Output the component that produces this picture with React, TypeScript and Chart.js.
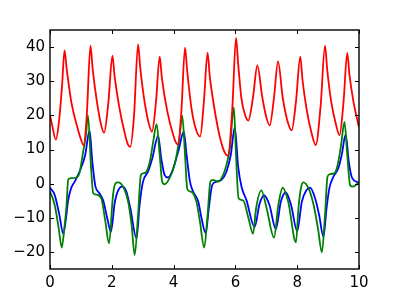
import React, { useEffect, useRef } from "react";
import { Chart, registerables } from "chart.js";

Chart.register(...registerables);

const xTicks = [0, 2, 4, 6, 8, 10];
const yTicks = [-20, -10, 0, 10, 20, 30, 40];

const redT = [0,0.06,0.19,0.3,0.39,0.47,0.54,0.69,0.87,1.03,1.09,1.19,1.31,1.38,1.52,1.66,1.75,1.89,2.02,2.09,2.24,2.4,2.52,2.6,2.72,2.85,2.92,3.06,3.2,3.3,3.43,3.55,3.62,3.8,3.98,4.08,4.14,4.25,4.37,4.44,4.58,4.72,4.86,4.98,5.1,5.17,5.33,5.5,5.66,5.76,5.9,6.02,6.09,6.19,6.3,6.42,6.57,6.71,6.87,7.0,7.11,7.25,7.38,7.53,7.68,7.82,7.96,8.1,8.17,8.31,8.46,8.6,8.76,8.9,8.97,9.1,9.25,9.37,9.5,9.62,9.69,9.82,10];
const redV = [20,17.5,12.9,19,28.7,39,33.6,23.9,17,12.2,11.2,20,40.4,33.6,23.9,17,14.9,23.9,37.5,31.5,22.5,15.5,11.5,10.8,20,40.8,34,24,17.5,15.2,24,37.2,31,21,14.5,12,11.5,21,39.8,33,22,16,13.8,24,38.4,31.5,21.5,13.5,9,8.2,22,42.7,35.1,25.3,20.5,18.5,25.3,34.6,25.3,19.5,17,25.3,35.8,25.3,18.5,15.6,24,37.2,30.5,21.5,15,11.3,23,40.4,33.5,24,17.5,14.2,24,38.3,32,24,16.5];

const greenT = [0,0.15,0.28,0.38,0.47,0.53,0.59,0.68,0.85,0.95,1.08,1.16,1.23,1.33,1.4,1.5,1.66,1.79,1.91,2.04,2.12,2.2,2.37,2.53,2.64,2.74,2.85,2.94,3.01,3.12,3.23,3.34,3.45,3.55,3.63,3.71,3.87,4.03,4.1,4.2,4.28,4.37,4.44,4.53,4.63,4.74,4.85,4.99,5.1,5.19,5.27,5.44,5.6,5.71,5.82,5.95,6.02,6.1,6.25,6.42,6.57,6.67,6.84,7.01,7.25,7.39,7.53,7.71,7.96,8.04,8.13,8.2,8.37,8.53,8.67,8.8,8.9,8.98,9.06,9.2,9.31,9.42,9.53,9.62,9.71,9.79,10];
const greenV = [-2.3,-6.2,-13,-18.7,-12.5,-7,1.2,1.6,1.8,3,9.7,14,20,4.5,-2.8,-3.2,-4.3,-11,-17.5,-3.3,0.1,0.4,-0.9,-5.3,-12,-20.9,-9.2,2.5,3,3.5,6.4,12.3,17.4,8.4,0.6,-0.2,1.6,5.5,8.4,14.2,19.9,8.4,-1.4,-2.3,-2.8,-5.3,-11,-18.7,-9.2,0.6,1.1,0.6,2.5,5.5,10.3,22.3,8.4,-4.2,-4.9,-10,-14.7,-7.2,-2,-7.2,-15.8,-6.2,-1.2,-5.3,-17.2,-7.2,-0.9,0.4,-1.4,-6.2,-13,-20.1,-9.2,2,2.8,3,5.5,11.3,18.1,8.4,-0.4,-0.9,0.3];

const blueT = [0,0.15,0.3,0.43,0.52,0.58,0.68,0.8,0.97,1.14,1.28,1.37,1.47,1.6,1.72,1.85,1.97,2.1,2.26,2.34,2.47,2.6,2.8,2.9,3.01,3.17,3.31,3.5,3.6,3.71,3.82,3.95,4.15,4.33,4.42,4.53,4.63,4.8,4.9,5.04,5.14,5.25,5.39,5.55,5.71,5.85,5.98,6.09,6.2,6.36,6.62,6.78,6.93,7.1,7.31,7.47,7.63,7.8,8.0,8.15,8.3,8.42,8.58,8.71,8.85,8.95,9.04,9.17,9.33,9.44,9.57,9.67,9.78,10];
const blueV = [-1.2,-3.3,-9,-14.7,-10,-5.3,-1.4,0.6,3.8,8.4,15.6,6.4,-0.8,-2.8,-4.9,-10,-14.1,-5.3,-1.2,-0.9,-2.3,-7.2,-16,-6.2,0.6,3.5,7.4,14,7.4,2.5,1.8,3.5,9.4,15.2,8.4,0.6,-2.3,-5.3,-10,-14.5,-7.2,-0.4,0.6,1.1,3.5,8.4,16.5,4.9,-1,-4.9,-12.7,-6,-3.4,-6.2,-13.3,-5.3,-2.6,-6.2,-13.9,-5.3,-1.9,-1.2,-4.3,-9.2,-15.5,-7.2,-1.4,2,4.5,8.4,14.4,6.4,1.6,0.3];

const toPts = (t: number[], v: number[]) => t.map((x, i) => ({ x, y: v[i] }));
const fmt = (v: number) => (v < 0 ? "\u2212" + Math.abs(v) : String(v));

const framePlugin = {
  id: "frame",
  afterDraw(chart: any) {
    const { ctx, chartArea: a, scales } = chart;
    ctx.save();
    ctx.strokeStyle = "#000";
    ctx.lineWidth = 1.4;
    ctx.strokeRect(a.left, a.top, a.right - a.left, a.bottom - a.top);
    ctx.lineWidth = 1;
    ctx.beginPath();
    const L = 4;
    xTicks.forEach((t) => {
      const px = Math.round(scales.x.getPixelForValue(t)) + 0.5;
      ctx.moveTo(px, a.bottom);
      ctx.lineTo(px, a.bottom - L);
      ctx.moveTo(px, a.top);
      ctx.lineTo(px, a.top + L);
    });
    yTicks.forEach((t) => {
      const py = Math.round(scales.y.getPixelForValue(t)) + 0.5;
      ctx.moveTo(a.left, py);
      ctx.lineTo(a.left + L, py);
      ctx.moveTo(a.right, py);
      ctx.lineTo(a.right - L, py);
    });
    ctx.stroke();
    ctx.restore();
  },
};

export default function App() {
  const ref = useRef<HTMLCanvasElement | null>(null);
  useEffect(() => {
    document.body.style.margin = "0";
    const canvas = ref.current!;
    const line = (t: number[], v: number[], color: string) => ({
      data: toPts(t, v),
      borderColor: color,
      backgroundColor: color,
      borderWidth: 1.8,
      pointRadius: 0,
      fill: false,
      cubicInterpolationMode: "monotone" as const,
    });
    const chart = new Chart(canvas, {
      type: "line",
      data: {
        datasets: [
          line(redT, redV, "#ff0000"),
          line(greenT, greenV, "#008000"),
          line(blueT, blueV, "#0000ff"),
        ],
      },
      options: {
        animation: false,
        responsive: false,
        maintainAspectRatio: false,
        layout: { padding: { left: 0, right: 40, top: 30, bottom: 0 } },
        plugins: { legend: { display: false }, tooltip: { enabled: false } },
        scales: {
          x: {
            type: "linear",
            min: 0,
            max: 10,
            grid: { display: false, drawTicks: false },
            border: { display: false },
            afterBuildTicks: (s: any) => {
              s.ticks = xTicks.map((value) => ({ value }));
            },
            afterFit: (s: any) => {
              s.height = 30;
            },
            ticks: {
              color: "#000",
              padding: 5,
              maxRotation: 0,
              font: { family: "DejaVu Sans", size: 15 },
              callback: (v: any) => fmt(Number(v)),
            },
          },
          y: {
            type: "linear",
            min: -25,
            max: 45,
            grid: { display: false, drawTicks: false },
            border: { display: false },
            afterBuildTicks: (s: any) => {
              s.ticks = yTicks.map((value) => ({ value }));
            },
            afterFit: (s: any) => {
              s.width = 50;
            },
            ticks: {
              color: "#000",
              padding: 5,
              font: { family: "DejaVu Sans", size: 15 },
              callback: (v: any) => fmt(Number(v)),
            },
          },
        },
      },
      plugins: [framePlugin],
    });
    return () => chart.destroy();
  }, []);
  return (
    <div style={{ width: 399, height: 299, background: "#fff" }}>
      <canvas ref={ref} width={399} height={299} style={{ display: "block" }} />
    </div>
  );
}
